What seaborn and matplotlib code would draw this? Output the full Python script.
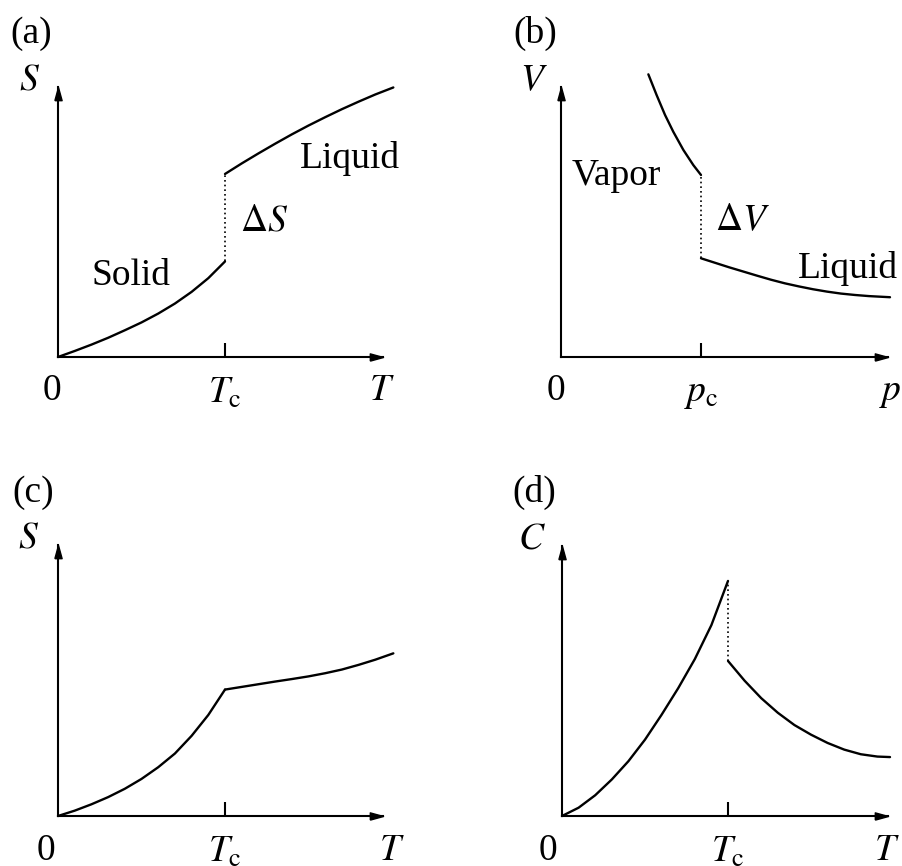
import matplotlib
matplotlib.use('Agg')
import matplotlib.pyplot as plt
import seaborn as sns
import numpy as np
import pandas as pd

sns.set_theme(style='white')
plt.rcParams.update({
    'font.family': ['Liberation Serif', 'DejaVu Serif'],
    'mathtext.fontset': 'stix',
    'figure.facecolor': 'white',
    'axes.facecolor': 'none',
})

# ---- data read off the schematic (x in units of Tc / pc) ----
# (a) entropy, first-order transition
a_solid_T = [0, 0.1, 0.2, 0.3, 0.4, 0.5, 0.6, 0.7, 0.8, 0.9, 1.0]
a_solid_S = [0, 0.036, 0.074, 0.115, 0.160, 0.207, 0.260, 0.320, 0.390, 0.472, 0.572]
a_liquid_T = [1.0, 1.1, 1.2, 1.3, 1.4, 1.5, 1.6, 1.7, 1.8, 1.9, 2.008]
a_liquid_S = [1.096, 1.159, 1.219, 1.277, 1.333, 1.386, 1.436, 1.484, 1.529, 1.572, 1.614]

# (b) volume vs pressure
b_vapor_p = [0.624, 0.683, 0.743, 0.802, 0.874, 0.945, 1.0]
b_vapor_V = [2.019, 1.871, 1.729, 1.609, 1.479, 1.371, 1.300]
b_liquid_p = [1.0, 1.1, 1.2, 1.3, 1.4, 1.5, 1.6, 1.7, 1.8, 1.9, 2.0, 2.1, 2.2, 2.35]
b_liquid_V = [0.705, 0.673, 0.641, 0.611, 0.581, 0.552, 0.526, 0.504, 0.484,
              0.467, 0.453, 0.443, 0.435, 0.427]

# (c) entropy, continuous transition
c_low_T = [0, 0.1, 0.2, 0.3, 0.4, 0.5, 0.6, 0.7, 0.8, 0.9, 1.0]
c_low_S = [0, 0.032, 0.070, 0.113, 0.163, 0.222, 0.292, 0.374, 0.480, 0.605, 0.757]
c_high_T = [1.0, 1.1, 1.2, 1.3, 1.4, 1.5, 1.6, 1.7, 1.8, 1.9, 2.008]
c_high_S = [0.757, 0.773, 0.789, 0.805, 0.820, 0.836, 0.855, 0.877, 0.905, 0.936, 0.974]

# (d) heat capacity
d_low_T = [0, 0.1, 0.2, 0.3, 0.4, 0.5, 0.6, 0.7, 0.8, 0.9, 1.0]
d_low_C = [0, 0.050, 0.125, 0.220, 0.330, 0.460, 0.610, 0.770, 0.945, 1.150, 1.416]
d_high_T = [1.0, 1.1, 1.2, 1.3, 1.4, 1.5, 1.6, 1.7, 1.8, 1.9, 1.976]
d_high_C = [0.934, 0.815, 0.710, 0.622, 0.548, 0.490, 0.440, 0.400, 0.372, 0.358, 0.355]

# dotted jumps at the transition (x, y_low, y_high)
a_jump = (1.0, 0.572, 1.096)
b_jump = (1.0, 0.705, 1.300)
d_jump = (1.0, 0.934, 1.416)

W, H = 902, 866
FS = 27
LW = 1.7

fig = plt.figure(figsize=(W / 100, H / 100), dpi=100)

arrow_right = [(-2, -0.55), (0, 0), (-2, 0.55), (-2, -0.55)]
arrow_up = [(-0.55, -2), (0, 0), (0.55, -2), (-0.55, -2)]


def make_axes(ox, oy, scale, x_end, y_end, tick_label):
    ax = fig.add_axes([ox / W, (H - oy) / H, x_end * scale / W, y_end * scale / H])
    ax.set_xlim(0, x_end)
    ax.set_ylim(0, y_end)
    for side in ['top', 'right']:
        ax.spines[side].set_visible(False)
    for side in ['left', 'bottom']:
        ax.spines[side].set_linewidth(1.5)
        ax.spines[side].set_color('black')
    ax.set_xticks([1])
    ax.set_xticklabels([tick_label])
    ax.set_yticks([])
    ax.tick_params(axis='x', direction='in', length=10, width=1.5,
                   pad=14, labelsize=FS, colors='black', bottom=True)
    ax.plot([1], [0], marker=arrow_right, ms=19, color='black', lw=0,
            transform=ax.transAxes, clip_on=False)
    ax.plot([0], [1], marker=arrow_up, ms=19, color='black', lw=0,
            transform=ax.transAxes, clip_on=False)
    return ax


def curve(ax, x, y, lw=LW, **kw):
    sns.lineplot(x=x, y=y, ax=ax, color='black', lw=lw, estimator=None,
                 sort=False, clip_on=False, **kw)


def jump(ax, j):
    curve(ax, [j[0], j[0]], [j[1], j[2]], lw=1.2, linestyle=(0, (1, 1.8)))


def label(ax, x, y, s, ha='center'):
    ax.text(x, y, s, fontsize=FS, ha=ha, va='baseline', color='black')


# ---- (a) ----
ax = make_axes(58, 357, 167, 1.948, 1.619, r'$T_\mathrm{c}$')
curve(ax, a_solid_T, a_solid_S)
curve(ax, a_liquid_T, a_liquid_S)
jump(ax, a_jump)
label(ax, -0.287, 1.880, '(a)', ha='left')
label(ax, -0.168, 1.599, r'$S$')
label(ax, 0.437, 0.431, 'Solid')
label(ax, 1.749, 1.132, 'Liquid')
label(ax, 1.09, 0.760, r'$\Delta S$', ha='left')
label(ax, -0.036, -0.257, '0')
label(ax, 1.94, -0.257, r'$T$')

# ---- (b) ----
ax = make_axes(561, 357, 140, 2.336, 1.93, r'$p_\mathrm{c}$')
curve(ax, b_vapor_p, b_vapor_V)
curve(ax, b_liquid_p, b_liquid_V)
jump(ax, b_jump)
label(ax, -0.343, 2.243, '(b)', ha='left')
label(ax, -0.193, 1.907, r'$V$')
label(ax, 0.079, 1.229, 'Vapor', ha='left')
label(ax, 1.10, 0.907, r'$\Delta V$', ha='left')
label(ax, 2.05, 0.564, 'Liquid')
label(ax, -0.036, -0.307, '0')
label(ax, 2.35, -0.307, r'$p$')

# ---- (c) ----
ax = make_axes(58, 816, 167, 1.948, 1.623, r'$T_\mathrm{c}$')
curve(ax, c_low_T, c_low_S)
curve(ax, c_high_T, c_high_S)
label(ax, -0.275, 1.880, '(c)', ha='left')
label(ax, -0.174, 1.605, r'$S$')
label(ax, -0.072, -0.263, '0')
label(ax, 2.0, -0.263, r'$T$')

# ---- (d) ----
ax = make_axes(562, 816, 166, 1.966, 1.627, r'$T_\mathrm{c}$')
curve(ax, d_low_T, d_low_C)
curve(ax, d_high_T, d_high_C)
jump(ax, d_jump)
label(ax, -0.301, 1.892, '(d)', ha='left')
label(ax, -0.181, 1.614, r'$C$')
label(ax, -0.084, -0.265, '0')
label(ax, 1.96, -0.265, r'$T$')

fig.savefig('out.png', dpi=100)
